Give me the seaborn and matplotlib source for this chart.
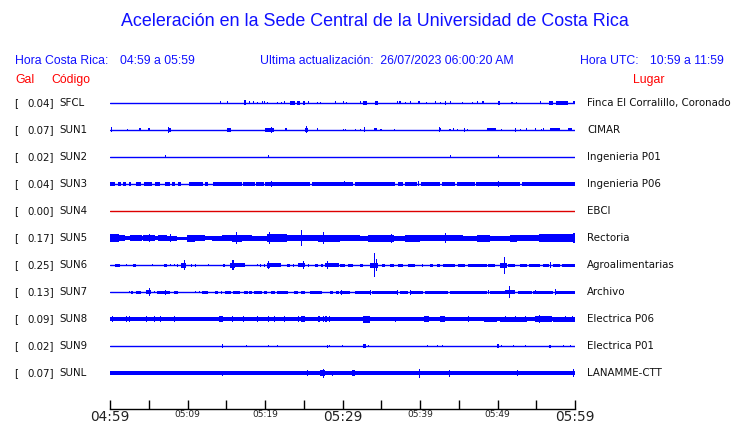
import numpy as np
import pandas as pd
import seaborn as sns
import matplotlib.pyplot as plt

# station info
stations = ['SFCL', 'SUN1', 'SUN2', 'SUN3', 'SUN4', 'SUN5', 'SUN6', 'SUN7', 'SUN8', 'SUN9', 'SUNL']
pga = [0.04, 0.07, 0.02, 0.04, 0.00, 0.17, 0.25, 0.13, 0.09, 0.02, 0.07]
places = ['Finca El Corralillo, Coronado', 'CIMAR', 'Ingenieria P01', 'Ingenieria P06', 'EBCI',
          'Rectoria', 'Agroalimentarias', 'Archivo', 'Electrica P06', 'Electrica P01', 'LANAMME-CTT']
trace_colors = ['blue', 'blue', 'blue', 'blue', '#dd0000', 'blue', 'blue', 'blue', 'blue', 'blue', 'blue']

# minutes after 04:59
tick_minutes = [0, 5, 10, 15, 20, 25, 30, 35, 40, 45, 50, 55, 60]
tick_labels = ['04:59', '', '05:09', '', '05:19', '', '05:29', '', '05:39', '', '05:49', '', '05:59']

# bursts: (start min, end min, half amplitude in px)
sfcl = [(14.2, 14.2, 1.5), (15.1, 15.1, 1.5), (17.3, 17.6, 2.5), (17.9, 17.9, 1.5), (18.5, 18.5, 1.5),
        (19.0, 19.0, 1.2), (19.6, 19.6, 1.5), (19.9, 19.9, 1.5), (20.2, 20.2, 1.0), (21.5, 21.5, 1.0),
        (22.0, 22.0, 1.0), (22.5, 22.5, 1.5), (23.2, 23.9, 1.8), (24.1, 24.5, 1.8), (24.9, 25.2, 1.8),
        (25.6, 25.6, 1.5), (26.7, 26.7, 1.0), (27.1, 27.1, 1.0), (29.0, 29.0, 1.5), (30.1, 30.1, 1.5),
        (30.5, 30.5, 1.2), (32.3, 32.3, 1.5), (32.7, 33.2, 1.8), (34.2, 34.6, 1.8), (37.0, 37.0, 1.5),
        (37.3, 37.6, 1.5), (38.1, 38.1, 1.0), (38.7, 38.7, 1.5), (39.8, 39.8, 1.5), (40.8, 40.8, 1.0),
        (41.9, 41.9, 1.5), (42.6, 42.6, 1.0), (43.2, 43.4, 1.8), (43.9, 43.9, 1.5), (45.4, 45.4, 1.0),
        (46.7, 46.7, 1.0), (47.3, 47.3, 1.5), (48.0, 48.2, 1.5), (50.0, 50.3, 1.8), (51.8, 51.8, 1.0),
        (52.4, 52.4, 1.0), (55.5, 55.5, 1.5), (56.6, 57.1, 2.2), (57.6, 59.1, 1.8), (59.8, 59.8, 1.5)]
sun1 = [(0.1, 0.3, 2.5), (2.2, 2.2, 1.0), (3.8, 4.0, 1.5), (4.9, 5.1, 1.5), (7.5, 7.9, 2.0), (7.5, 7.5, 3.0),
        (15.1, 15.6, 2.0), (20.0, 21.2, 2.0), (20.8, 20.8, 3.0), (22.6, 22.9, 1.5), (25.1, 25.5, 2.0),
        (25.3, 25.3, 3.5), (26.7, 26.7, 1.5), (30.1, 30.1, 1.2), (30.3, 30.3, 1.0), (31.6, 31.6, 1.0),
        (32.3, 32.3, 1.0), (32.8, 32.8, 2.5), (34.1, 34.4, 1.5), (34.9, 34.9, 1.0), (36.6, 36.6, 1.0),
        (42.4, 42.4, 2.5), (42.6, 42.6, 1.5), (43.8, 43.8, 1.0), (44.3, 44.3, 1.5), (44.8, 44.8, 1.0),
        (45.7, 45.7, 2.0), (46.1, 46.1, 1.0), (48.6, 49.5, 1.5), (49.6, 49.8, 1.5), (50.5, 50.5, 1.0),
        (52.3, 52.3, 2.0), (52.9, 52.9, 1.0), (53.7, 53.7, 1.5), (54.8, 54.8, 1.5), (55.6, 55.6, 1.0),
        (55.9, 55.9, 1.5), (56.8, 58.1, 1.5), (59.1, 59.6, 1.5)]
sun2 = [(7.1, 7.1, 1.5), (20.4, 20.4, 1.5), (43.9, 43.9, 1.5), (50.0, 50.0, 1.5)]
sun3 = [(0.0, 0.6, 1.7), (1.0, 1.4, 1.7), (1.7, 2.1, 1.7), (2.4, 2.7, 1.7), (3.4, 4.0, 1.7), (4.4, 5.4, 1.7),
        (5.8, 6.5, 1.7), (7.1, 7.7, 1.7), (8.0, 8.4, 1.7), (8.8, 9.2, 1.7), (10.2, 12.0, 1.7), (12.3, 12.6, 1.7),
        (13.3, 17.0, 1.9), (17.2, 17.8, 1.9), (17.8, 18.7, 1.9), (18.9, 19.9, 1.9), (20.0, 25.8, 1.9),
        (26.0, 31.4, 1.9), (31.6, 36.8, 1.9), (37.1, 37.8, 1.9), (38.1, 39.6, 1.9), (40.1, 42.6, 1.9),
        (42.8, 44.5, 1.9), (44.8, 47.1, 1.9), (47.2, 52.9, 1.9), (53.1, 60.0, 1.9),
        (20.8, 20.8, 3.0), (30.2, 30.2, 2.5), (39.7, 39.7, 2.5), (50.1, 50.1, 3.0)]
sun4 = []
sun5 = [(0.0, 1.1, 4.0), (1.1, 1.9, 3.0), (1.9, 2.6, 2.0), (2.6, 4.1, 3.0), (4.1, 4.3, 2.0), (4.3, 5.8, 3.0),
        (5.0, 5.0, 4.0), (5.8, 6.2, 2.0), (6.2, 7.3, 3.0), (7.3, 8.6, 2.5), (7.7, 7.7, 4.0), (8.6, 9.9, 1.5),
        (9.9, 11.0, 3.5), (11.0, 12.3, 3.0), (12.3, 13.1, 2.0), (13.1, 14.4, 2.5), (14.4, 15.7, 3.0),
        (15.7, 17.0, 3.5), (16.3, 16.3, 6.0), (17.0, 18.3, 3.0), (18.3, 20.2, 2.5), (20.2, 22.8, 4.0),
        (20.5, 20.5, 6.0), (22.8, 24.3, 3.0), (24.3, 24.7, 3.0), (24.6, 24.6, 8.0), (24.7, 26.9, 3.0),
        (26.9, 27.9, 3.5), (27.5, 27.5, 6.0), (27.9, 29.7, 3.5), (29.7, 32.3, 3.0), (32.3, 33.3, 2.5),
        (33.3, 36.6, 3.5), (36.3, 36.3, 4.5), (36.6, 38.1, 2.5), (38.1, 40.0, 3.5), (40.0, 42.2, 3.0),
        (42.2, 45.6, 3.0), (43.2, 43.2, 5.0), (45.6, 47.3, 2.5), (47.3, 49.0, 3.5), (49.0, 51.6, 2.5),
        (51.6, 52.5, 3.5), (52.5, 55.3, 3.0), (55.3, 57.2, 4.0), (57.2, 60.0, 4.0), (59.8, 59.8, 5.0)]
sun6 = [(0.6, 1.3, 1.5), (2.0, 2.0, 1.0), (3.0, 3.4, 1.5), (5.4, 5.4, 1.0), (7.0, 7.4, 1.5), (7.7, 7.7, 1.0),
        (8.2, 8.2, 1.0), (8.6, 8.6, 1.5), (9.2, 9.8, 2.5), (9.5, 9.5, 5.0), (10.5, 10.5, 1.5), (11.0, 11.0, 1.5),
        (12.6, 12.6, 1.0), (14.6, 14.9, 1.5), (15.5, 16.1, 2.5), (15.8, 15.8, 5.0), (16.1, 17.4, 2.0),
        (19.0, 19.0, 1.0), (19.4, 19.4, 1.5), (19.9, 19.9, 1.5), (20.2, 20.6, 2.5), (20.4, 20.4, 4.0),
        (20.6, 22.1, 2.0), (22.8, 23.2, 1.5), (23.6, 23.6, 1.5), (24.3, 25.2, 2.0), (24.9, 24.9, 4.0),
        (25.6, 25.6, 1.5), (26.5, 26.9, 1.5), (27.2, 27.5, 1.5), (27.7, 29.5, 2.0), (28.0, 28.0, 4.0),
        (29.7, 30.3, 1.5), (30.7, 31.4, 1.5), (32.2, 32.7, 1.5), (33.5, 34.6, 2.5), (34.1, 34.1, 12.0),
        (34.3, 34.3, 6.0), (35.1, 35.5, 1.5), (36.1, 36.6, 1.5), (37.2, 37.8, 1.5), (38.5, 39.4, 1.5),
        (40.2, 40.2, 1.5), (41.3, 41.7, 1.5), (42.2, 42.6, 1.5), (43.0, 44.5, 1.5), (44.9, 45.8, 1.5),
        (46.2, 48.6, 1.5), (48.8, 49.7, 1.5), (50.3, 51.2, 2.5), (50.8, 50.8, 8.5), (51.4, 52.3, 1.5),
        (52.9, 53.8, 1.5), (54.0, 55.5, 1.5), (55.9, 56.6, 1.5), (56.8, 56.8, 3.0), (57.2, 58.1, 1.5),
        (58.3, 60.0, 1.5)]
sun7 = [(2.5, 2.5, 1.0), (2.7, 3.0, 1.5), (3.3, 4.0, 1.5), (4.7, 5.3, 2.0), (5.0, 5.0, 4.0), (5.7, 5.7, 1.0),
        (6.0, 7.7, 1.5), (7.1, 7.1, 2.5), (8.2, 8.8, 1.5), (11.0, 11.0, 1.0), (11.5, 11.5, 1.0), (11.9, 12.7, 1.5),
        (13.6, 14.0, 1.5), (14.3, 14.3, 1.5), (14.8, 15.6, 1.5), (15.9, 16.8, 1.5), (17.3, 17.8, 1.5),
        (17.9, 18.3, 1.5), (18.6, 19.6, 1.5), (19.9, 20.2, 1.5), (20.8, 21.3, 1.5), (21.5, 23.0, 1.5),
        (23.7, 24.3, 1.5), (24.6, 25.2, 1.5), (25.8, 27.3, 1.5), (28.4, 28.8, 1.5), (29.2, 29.5, 1.5),
        (29.7, 31.0, 1.5), (29.8, 29.8, 2.5), (31.6, 33.5, 1.5), (33.5, 33.5, 2.5), (33.8, 37.0, 1.5),
        (37.0, 37.0, 2.5), (37.4, 38.5, 1.5), (38.7, 38.7, 2.5), (38.9, 40.4, 1.5), (40.6, 43.6, 1.5),
        (43.9, 48.6, 1.5), (48.8, 48.8, 2.0), (49.0, 51.0, 1.5), (51.0, 52.3, 2.0), (51.5, 51.5, 6.0),
        (52.7, 54.4, 1.5), (54.6, 57.2, 1.5), (54.8, 54.8, 2.0), (57.4, 57.4, 3.0), (57.6, 60.0, 1.5)]
sun8 = [(0.0, 60.0, 2.0), (0.3, 0.3, 3.0), (2.0, 2.0, 3.0), (2.4, 2.4, 3.0), (4.6, 4.6, 3.0), (5.7, 5.7, 3.0),
        (6.4, 6.4, 3.0), (8.2, 8.2, 3.0), (14.0, 14.6, 3.0), (15.7, 15.7, 3.0), (17.2, 17.2, 3.0),
        (19.0, 19.0, 3.0), (20.4, 20.4, 3.0), (21.1, 21.1, 3.0), (22.4, 22.4, 3.0), (24.2, 24.2, 3.0),
        (24.6, 25.1, 3.0), (26.9, 26.9, 3.0), (27.5, 27.5, 3.0), (27.8, 27.8, 3.0), (28.3, 28.3, 3.0),
        (32.6, 33.5, 3.5), (36.8, 36.8, 2.5), (40.5, 41.2, 3.0), (42.6, 43.2, 3.0), (46.2, 46.2, 3.0),
        (48.2, 49.9, 2.5), (50.3, 53.8, 2.5), (51.0, 51.0, 3.0), (52.2, 52.2, 3.0), (53.5, 53.5, 3.0),
        (54.8, 57.0, 3.0), (55.4, 55.4, 4.0), (57.2, 60.0, 2.5), (58.7, 58.7, 3.0), (59.6, 59.6, 3.0)]
sun9 = [(14.4, 14.4, 2.0), (17.6, 17.6, 1.0), (20.4, 20.4, 1.0), (21.5, 21.5, 1.0), (28.0, 28.0, 1.5),
        (28.3, 28.3, 1.0), (29.9, 29.9, 1.0), (32.7, 33.0, 2.0), (33.3, 33.3, 1.0), (40.9, 40.9, 1.0),
        (42.2, 42.2, 1.0), (42.8, 42.8, 1.0), (49.9, 50.2, 2.0), (50.4, 50.4, 1.0), (52.0, 52.0, 1.0),
        (53.5, 53.5, 1.0), (56.7, 56.7, 1.5), (58.4, 58.4, 1.0), (59.4, 59.4, 1.0)]
sunl = [(0.0, 60.0, 2.2), (14.4, 14.4, 2.5), (25.4, 25.4, 3.0), (27.1, 27.7, 3.0), (27.5, 27.5, 4.5),
        (28.6, 28.6, 2.5), (31.2, 31.6, 3.0), (39.9, 39.9, 4.5), (43.7, 43.7, 3.5), (52.5, 52.5, 3.0),
        (59.7, 59.7, 4.0)]
bursts = [sfcl, sun1, sun2, sun3, sun4, sun5, sun6, sun7, sun8, sun9, sunl]

W, H = 740, 423
ROW_PX = 27.0

sns.set_style('white')
fig = plt.figure(figsize=(W / 100, H / 100), dpi=100)
ax = fig.add_axes([110 / W, (H - 409) / H, 465 / W, (409 - 90) / H])

# thin base line of each trace
base = pd.DataFrame({'minute': [0, 60] * len(stations),
                     'row': np.repeat(np.arange(len(stations)), 2),
                     'station': np.repeat(stations, 2)})
sns.lineplot(data=base, x='minute', y='row', hue='station', palette=dict(zip(stations, trace_colors)),
             estimator=None, legend=False, linewidth=1.0, ax=ax)

# bursts as filled bars around each trace
for i, ev in enumerate(bursts):
    if not ev:
        continue
    t0 = np.array([e[0] for e in ev])
    t1 = np.array([e[1] for e in ev])
    h = np.array([e[2] for e in ev]) / ROW_PX
    width = np.maximum(t1 - t0, 0.14)
    ax.bar(t0, 2 * h, width=width, bottom=i - h, align='edge', color=trace_colors[i], linewidth=0)

ax.set_xlim(0, 60)
ax.set_ylim(11.33, -0.48)
ax.set_yticks([])
ax.set_xlabel('')
ax.set_ylabel('')
for s in ['top', 'left', 'right']:
    ax.spines[s].set_visible(False)
ax.spines['bottom'].set_color('black')
ax.spines['bottom'].set_linewidth(1.0)
ax.set_xticks(tick_minutes)
ax.set_xticklabels(tick_labels)
ax.tick_params(axis='x', direction='in', length=6.5, width=1.0, color='black', pad=0.5, bottom=True)
for lab in ax.get_xticklabels():
    lab.set_family('DejaVu Sans')
    lab.set_color('#222222')
    if lab.get_text() in ('04:59', '05:29', '05:59'):
        lab.set_fontsize(9.8)
    else:
        lab.set_fontsize(6.5)
ax.patch.set_alpha(0)


def put(x, y, s, **kw):
    fig.text(x / W, 1 - y / H, s, va='center', **kw)


hdr = dict(family=['Liberation Sans', 'DejaVu Sans'], color='#1010ff')
put(375, 22, 'Aceleración en la Sede Central de la Universidad de Costa Rica', ha='center', fontsize=12.9, **hdr)
put(15, 61, 'Hora Costa Rica:', fontsize=8.8, **hdr)
put(120, 61, '04:59 a 05:59', fontsize=8.8, **hdr)
put(260, 61, 'Ultima actualización:  26/07/2023 06:00:20 AM', fontsize=8.8, **hdr)
put(580, 61, 'Hora UTC:', fontsize=8.8, **hdr)
put(724, 61, '10:59 a 11:59', ha='right', fontsize=8.8, **hdr)
red = dict(family=['Liberation Sans', 'DejaVu Sans'], color='red', fontsize=8.8)
put(15, 80, 'Gal', **red)
put(51, 80, 'Código', **red)
put(633, 80, 'Lugar', **red)

lbl = dict(family='DejaVu Sans', fontsize=7.4, color='#111111')
for i in range(len(stations)):
    y = 103 + ROW_PX * i
    put(14, y, '[', **lbl)
    put(54, y, f'{pga[i]:.2f}]', ha='right', **lbl)
    put(59, y, stations[i], **lbl)
    put(587, y, places[i], **lbl)

fig.savefig('out.png', dpi=100)
